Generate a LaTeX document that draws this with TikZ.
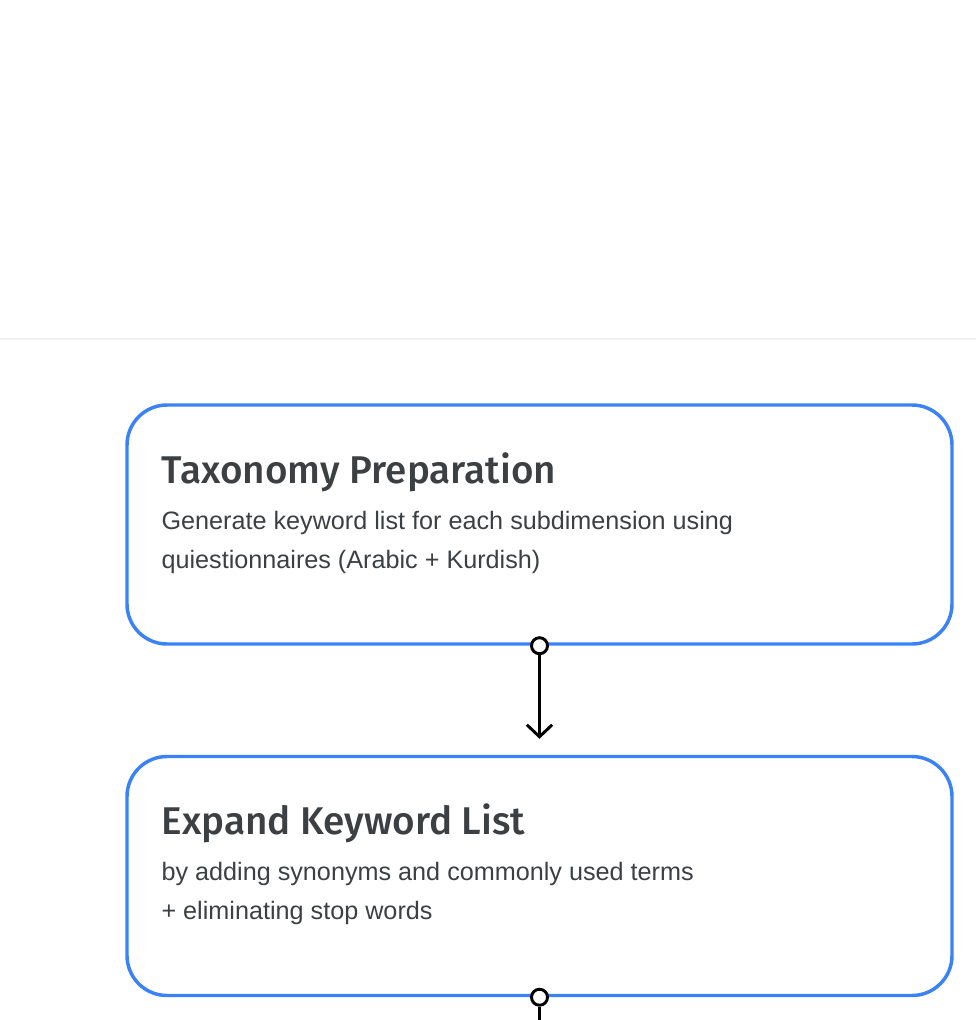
\documentclass[tikz,border=0pt]{standalone}
\usepackage{fontspec}
\setmainfont{Liberation Sans}
\newfontfamily\headfont{Fira Sans Medium}
\usetikzlibrary{positioning, calc, arrows.meta}
\definecolor{boxblue}{HTML}{3B82F6}
\definecolor{inkgray}{HTML}{3C4043}
\definecolor{rulegray}{HTML}{F2F2F2}

\begin{document}
\begin{tikzpicture}[x=0.75pt, y=-0.75pt, >={Straight Barb[length=9pt,width=19pt]},
    stage/.style={draw=boxblue, line width=2.6pt, rounded corners=30pt,
        minimum width=618.75pt, minimum height=179.25pt, inner sep=0pt},
    heading/.style={anchor=base west, inner sep=0pt, text=inkgray,
        font=\headfont\fontsize{29}{34}\selectfont},
    detail/.style={anchor=base west, inner sep=0pt, align=left, text=inkgray,
        font=\fontsize{18.9}{29.25}\selectfont},
    link/.style={line width=2.2pt},
    port/.style={circle, draw, line width=2.2pt, fill=white,
        minimum size=12pt, inner sep=0pt}]
    \useasboundingbox (0,0) rectangle (976,1020);
    \draw[rulegray, line width=1.2pt] (0,339) -- (976,339);
    % stages
    \node[stage] (prep) at (539.5,524.5) {};
    \node[heading] (prepTitle) at ($(prep.north west)+(36,80)$) {Taxonomy Preparation};
    \node[detail] (prepText) at ($(prep.north west)+(36,165)$)
        {Generate keyword list for each subdimension using\\quiestionnaires (Arabic + Kurdish)};
    \node[stage] (expand) at (539.5,876) {};
    \node[heading] (expandTitle) at ($(expand.north west)+(36,80)$) {Expand Keyword List};
    \node[detail] (expandText) at ($(expand.north west)+(36,165)$)
        {by adding synonyms and commonly used terms\\+ eliminating stop words};
    % connectors
    \node[port] (prepPort) at (prep.south) {};
    \node[port] (expandPort) at (expand.south) {};
    \coordinate (next) at (539.5,1045);
    \draw[link, ->, shorten >=12pt] (prepPort) -- (expand.north);
    \draw[link] (expandPort) -- (next);
\end{tikzpicture}
\end{document}
